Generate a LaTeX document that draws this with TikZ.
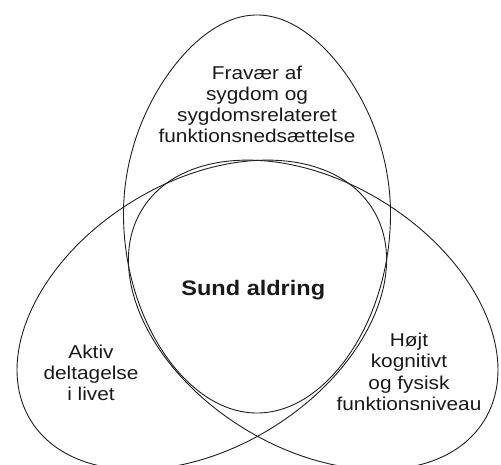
\documentclass[tikz,border=0pt]{standalone}
\usepackage{fontspec}
\setmainfont{Liberation Sans}
\begin{document}
\begin{tikzpicture}[x=1pt,y=-1pt,
  egg/.style={draw=black!88, line width=0.9pt},
  lbl/.style={align=center, inner sep=0pt, text=black!90,
    font=\fontsize{18.6}{21.2}\selectfont, xscale=1.12, transform shape},
  mainlbl/.style={inner sep=0pt, text=black!90,
    font=\bfseries\fontsize{21}{24}\selectfont, xscale=1.12, transform shape},
]
\useasboundingbox (0,0) rectangle (501,465);
\begin{scope}
  \clip (0,0) rectangle (501,465);
  % top egg (pointed towards the top)
  \draw[egg] plot[domain=0:359, samples=360, variable=\t]
    ({257 + 133.5*sin(\t)*(1 - 0.13*max(cos(\t),0)*max(cos(\t),0) - 0.05*min(cos(\t),0)*min(cos(\t),0))},
     {214 - 199*cos(\t)}) -- cycle;
  % left and right eggs
  \draw[egg, rotate around={31.7:(201.8,314.9)}] (201.8,314.9) ellipse [x radius=201pt, y radius=133pt];
  \draw[egg, rotate around={-31.7:(313.2,314.9)}] (313.2,314.9) ellipse [x radius=201pt, y radius=133pt];
\end{scope}
\node[lbl] (fravaer) at (257,104.5) {Fravær af\\sygdom og\\sygdomsrelateret\\funktionsnedsættelse};
\node[mainlbl, anchor=base] (sund) at (253.3,295) {Sund aldring};
\node[lbl] (aktiv) at (91,372.8) {Aktiv\\deltagelse\\i livet};
\node[lbl] (hojt) at (409,371.8) {Højt\\kognitivt\\og fysisk\\funktionsniveau};
\end{tikzpicture}
\end{document}
